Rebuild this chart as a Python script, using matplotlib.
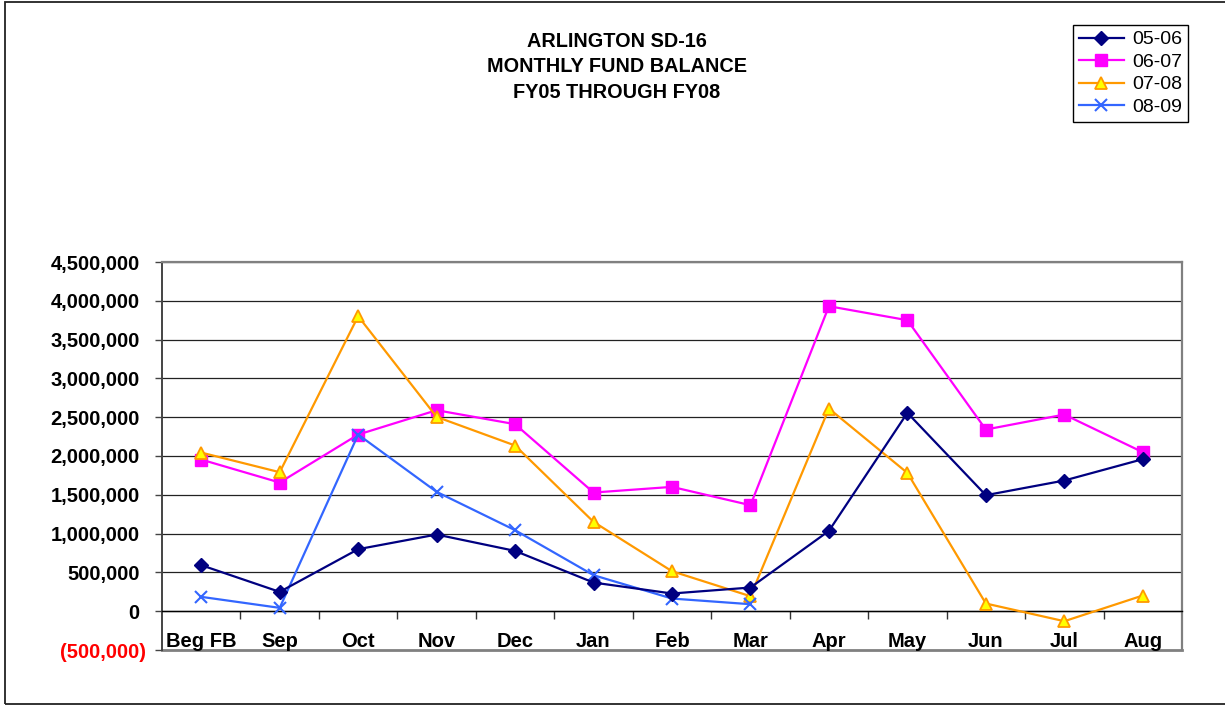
import numpy as np
import matplotlib
matplotlib.use('Agg')
import matplotlib.pyplot as plt
import matplotlib.transforms as mtransforms
from matplotlib.patches import Rectangle
from matplotlib.ticker import FuncFormatter, FixedLocator

plt.rcParams['font.family'] = ['Liberation Sans', 'DejaVu Sans']

# chart data
months = ['Beg FB', 'Sep', 'Oct', 'Nov', 'Dec', 'Jan', 'Feb', 'Mar',
          'Apr', 'May', 'Jun', 'Jul', 'Aug']
fy0506 = [593000, 249000, 799000, 988000, 777000, 369000, 228000, 305000,
          1035000, 2556000, 1495000, 1684000, 1959000]
fy0607 = [1954000, 1658000, 2276000, 2590000, 2410000, 1529000, 1602000, 1366000,
          3930000, 3750000, 2341000, 2534000, 2049000]
fy0708 = [2044000, 1791000, 3801000, 2504000, 2135000, 1151000, 515000, 193000,
          2611000, 1782000, 99000, -129000, 202000]
fy0809 = [185000, 43000, 2276000, 1538000, 1044000, 464000, 163000, 90000]
y_ticks = [-500000, 0, 500000, 1000000, 1500000, 2000000, 2500000,
           3000000, 3500000, 4000000, 4500000]

W, H = 1225, 706
fig = plt.figure(figsize=(W / 100, H / 100), dpi=100)
ax = fig.add_axes([162 / W, 1 - 650 / H, (1182 - 162) / W, (650 - 262) / H])

x = np.arange(len(months))
ax.plot(x, fy0506, color='#000080', lw=1.6, marker='D', ms=7,
        mfc='#000080', mec='#000080', label='05-06', zorder=4)
ax.plot(x, fy0607, color='#FF00FF', lw=1.6, marker='s', ms=8,
        mfc='#FF00FF', mec='#FF00FF', label='06-07', zorder=3)
ax.plot(x, fy0708, color='#FF9900', lw=1.6, marker='^', ms=9,
        mfc='#FFFF00', mec='#FF9900', mew=1.3, label='07-08', zorder=3)
ax.plot(x[:len(fy0809)], fy0809, color='#3366FF', lw=1.6, marker='x', ms=9,
        mew=1.5, label='08-09', zorder=3)

ax.set_xlim(-0.5, len(months) - 0.5)
ax.set_ylim(y_ticks[0], y_ticks[-1])

# horizontal gridlines
for v in y_ticks[1:]:
    ax.axhline(v, color='#222222', lw=0.9, zorder=1)

# spines: category axis crosses at zero, plot frame in gray
ax.spines['bottom'].set_position(('data', 0))
ax.spines['bottom'].set_color('black')
ax.spines['bottom'].set_linewidth(1.0)
ax.spines['left'].set_color('#444444')
ax.spines['left'].set_linewidth(1.4)
for s in ['top', 'right']:
    ax.spines[s].set_color('#808080')
    ax.spines[s].set_linewidth(1.6)
ax.axhline(y_ticks[0], color='#808080', lw=2.0, zorder=0.5, clip_on=False)

ax.set_yticks(y_ticks)
ax.yaxis.set_major_formatter(FuncFormatter(
    lambda v, p: '({:,.0f})'.format(-v) if v < 0 else '{:,.0f}'.format(v)))
ax.tick_params(axis='y', direction='out', length=5, width=1, pad=11,
               labelsize=14.5, color='#444444')
for lbl in ax.get_yticklabels():
    lbl.set_fontweight('bold')
neg = ax.get_yticklabels()[0]
neg.set_color('#FF0000')
# Excel keeps the digits aligned, so the closing bracket sticks out a bit
neg.set_transform(neg.get_transform() +
                  mtransforms.ScaledTranslation(6 / 100, 0, fig.dpi_scale_trans))

ax.set_xticks(x)
ax.set_xticklabels(months, fontsize=14.5, fontweight='bold')
ax.tick_params(axis='x', which='major', length=0, pad=15)
ax.xaxis.set_minor_locator(FixedLocator(np.arange(0.5, len(months) - 0.5, 1)))
ax.tick_params(axis='x', which='minor', direction='out', length=6, width=1,
               color='#333333')

# title
fig.text(617 / W, 1 - 67 / H, 'ARLINGTON SD-16\nMONTHLY FUND BALANCE\nFY05 THROUGH FY08',
         ha='center', va='center', fontsize=14.3, fontweight='bold', linespacing=1.43)

# legend
leg = ax.legend(loc='upper left', bbox_to_anchor=(1073 / W, 1 - 25 / H),
                bbox_transform=fig.transFigure, borderaxespad=0, fontsize=14,
                frameon=True, fancybox=False, edgecolor='black', framealpha=1,
                handlelength=2.3, handletextpad=0.45, labelspacing=0.25,
                borderpad=0.3)
leg.get_frame().set_linewidth(1.0)

# outer chart border
fig.patches.append(Rectangle((5 / W, 2 / H), 1.2, 1 - 3.7 / H, transform=fig.transFigure,
                             fill=False, edgecolor='#222222', lw=1.3))

fig.savefig('out.png', dpi=100)
